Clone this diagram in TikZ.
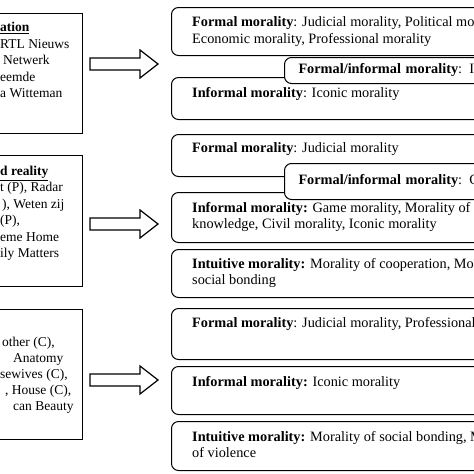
\documentclass[tikz,border=0pt]{standalone}
\usepackage{fontspec}
\setmainfont{Liberation Serif}
\begin{document}
\begin{tikzpicture}[x=1pt,y=-1pt,
    srcbox/.style={draw, line width=1.3pt, anchor=north west, minimum width=110pt},
    srcline/.style={anchor=base west, inner sep=0pt, font=\fontsize{13.5}{16}\selectfont},
    moralbox/.style={draw, line width=1pt, rounded corners=7pt, fill=white, anchor=north west, minimum width=360pt},
    moraltext/.style={anchor=north west, inner sep=0pt, align=left, font=\fontsize{14.3}{16.5}\selectfont},
    mixbox/.style={draw, line width=1pt, rounded corners=7pt, fill=white, anchor=north west,
        minimum width=330pt, text width=310pt, inner xsep=14pt, align=left, font=\fontsize{14.3}{16.5}\selectfont},
    fatarrow/.style={draw, line width=1.2pt, fill=white}]
    \useasboundingbox (0,0) rectangle (474,474);
    \clip (0,0) rectangle (474,474);

    % left boxes (programme genres)
    \node[srcbox, minimum height=120pt] (src1) at (-28,13) {};
    \node[srcline] (s1a) at (0,31.5) {\underline{\textbf{ation}}};
    \node[srcline] (s1b) at (0,48.1) {RTL Nieuws};
    \node[srcline] (s1c) at (3,64.7) {Netwerk};
    \node[srcline] (s1d) at (0,81.3) {eemde};
    \node[srcline] (s1e) at (0,97.9) {a Witteman};

    \node[srcbox, minimum height=131pt] (src2) at (-28,155) {};
    \node[srcline] (s2a) at (0,175.5) {\underline{\textbf{d reality}}};
    \node[srcline] (s2b) at (0,191.9) {t (P), Radar};
    \node[srcline] (s2c) at (2,208.3) {), Weten zij};
    \node[srcline] (s2d) at (0,224.7) {(P),};
    \node[srcline] (s2e) at (0,241.1) {eme Home};
    \node[srcline] (s2f) at (0,257.5) {ily Matters};

    \node[srcbox, minimum height=130pt] (src3) at (-28,309) {};
    \node[srcline] (s3a) at (2,346.5) {other (C),};
    \node[srcline] (s3b) at (13,362.5) {Anatomy};
    \node[srcline] (s3c) at (0,378.5) {sewives (C),};
    \node[srcline] (s3d) at (5,394.5) {, House (C),};
    \node[srcline] (s3e) at (13,410.5) {can Beauty};

    % block arrows
    \foreach \y in {64,224,380}
        \draw[fatarrow] (90,\y-6) -- (140,\y-6) -- (140,\y-14) -- (158,\y)
            -- (140,\y+14) -- (140,\y+6) -- (90,\y+6) -- cycle;

    % group 1
    \node[moralbox, minimum height=48pt] (formA) at (171,7) {};
    \node[moraltext] (formAt) at ([shift={(21,8)}]formA.north west)
        {\strut\textbf{Formal morality}: Judicial morality, Political morality,\\Economic morality, Professional morality};
    \node[moralbox, minimum height=42pt] (infA) at (171,77) {};
    \node[moraltext] (infAt) at ([shift={(21,9)}]infA.north west)
        {\strut\textbf{Informal morality}: Iconic morality};
    \node[mixbox, minimum height=26pt] (mixA) at (284,57) {\textbf{Formal/informal morality}: Iconic morality};

    % group 2
    \node[moralbox, minimum height=42pt] (formB) at (171,134) {};
    \node[moraltext] (formBt) at ([shift={(21,7)}]formB.north west)
        {\strut\textbf{Formal morality}: Judicial morality};
    \node[moralbox, minimum height=50pt] (infB) at (171,192) {};
    \node[moraltext] (infBt) at ([shift={(21,8.5)}]infB.north west)
        {\strut\textbf{Informal morality:} Game morality, Morality of\\knowledge, Civil morality, Iconic morality};
    \node[mixbox, minimum height=36pt] (mixB) at (284,163) {\textbf{Formal/informal morality}: Civil morality};
    \node[moralbox, minimum height=48pt] (intB) at (171,249) {};
    \node[moraltext] (intBt) at ([shift={(21,7.5)}]intB.north west)
        {\strut\textbf{Intuitive morality:} Morality of cooperation, Morality of\\social bonding};

    % group 3
    \node[moralbox, minimum height=51pt] (formC) at (171,308) {};
    \node[moraltext] (formCt) at ([shift={(21,7.5)}]formC.north west)
        {\strut\textbf{Formal morality}: Judicial morality, Professional morality};
    \node[moralbox, minimum height=48pt] (infC) at (171,366) {};
    \node[moraltext] (infCt) at ([shift={(21,8.5)}]infC.north west)
        {\strut\textbf{Informal morality:} Iconic morality};
    \node[moralbox, minimum height=49pt] (intC) at (171,421) {};
    \node[moraltext] (intCt) at ([shift={(21,8.5)}]intC.north west)
        {\strut\textbf{Intuitive morality:} Morality of social bonding, Morality\\of violence};
\end{tikzpicture}
\end{document}
